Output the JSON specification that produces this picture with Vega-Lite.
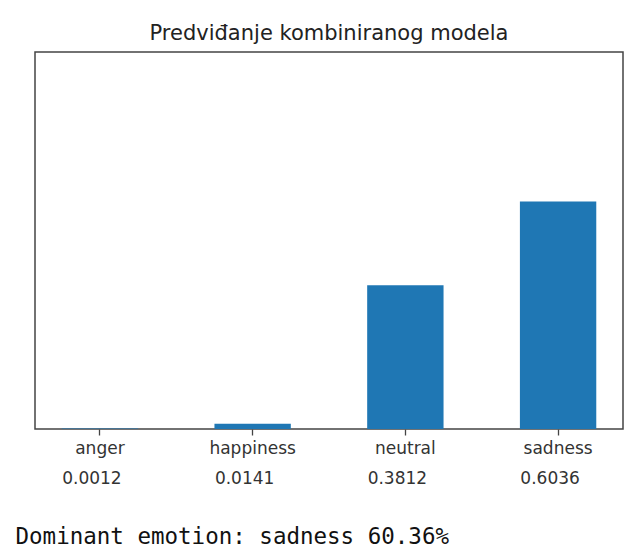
{
  "$schema": "https://vega.github.io/schema/vega-lite/v6.json",
  "width": 588,
  "height": 377,
  "autosize": {"type": "none"},
  "padding": {"left": 35, "top": 52, "right": 18, "bottom": 118},
  "background": "white",
  "title": {
    "text": "Predviđanje kombiniranog modela",
    "font": "DejaVu Sans",
    "fontSize": 21,
    "fontWeight": "normal",
    "color": "#222222",
    "anchor": "middle",
    "offset": 8
  },
  "config": {
    "view": {"stroke": "#444444", "strokeWidth": 1.5},
    "axis": {"labelFont": "DejaVu Sans", "labelColor": "#333333", "labelFontSize": 17, "grid": false}
  },
  "data": {
    "values": [
      {"emotion": "anger", "probability": 0.0012},
      {"emotion": "happiness", "probability": 0.0141},
      {"emotion": "neutral", "probability": 0.3812},
      {"emotion": "sadness", "probability": 0.6036}
    ]
  },
  "layer": [
    {
      "mark": {"type": "bar", "color": "#1f77b4"},
      "encoding": {
        "x": {
          "field": "emotion",
          "type": "nominal",
          "sort": null,
          "scale": {"paddingInner": 0.5, "paddingOuter": 0.175},
          "axis": {
            "title": null,
            "labelAngle": 0,
            "domain": false,
            "ticks": true,
            "tickSize": 6,
            "tickColor": "#444444",
            "tickWidth": 1.3,
            "labelPadding": 5,
            "orient": "bottom"
          }
        },
        "y": {
          "field": "probability",
          "type": "quantitative",
          "scale": {"domain": [0, 1], "nice": false},
          "axis": null
        }
      }
    },
    {
      "mark": {"type": "bar", "opacity": 0},
      "encoding": {
        "x": {
          "field": "probability",
          "type": "ordinal",
          "scale": {"paddingInner": 0.5, "paddingOuter": 0.175},
          "axis": {
            "orient": "bottom",
            "format": ".4f",
            "labelAngle": 0,
            "labelOffset": -8,
            "domain": false,
            "ticks": false,
            "labelPadding": 41,
            "title": "Dominant emotion: sadness 60.36%",
            "titleFont": "DejaVu Sans Mono",
            "titleFontSize": 22.5,
            "titleFontWeight": "normal",
            "titleColor": "#111111",
            "titleAnchor": "start",
            "titleAlign": "left",
            "titleBaseline": "alphabetic",
            "titleX": -20,
            "titleY": 114
          }
        },
        "y": {"field": "probability", "type": "quantitative"}
      }
    }
  ],
  "resolve": {"scale": {"x": "independent"}, "axis": {"x": "independent"}}
}
